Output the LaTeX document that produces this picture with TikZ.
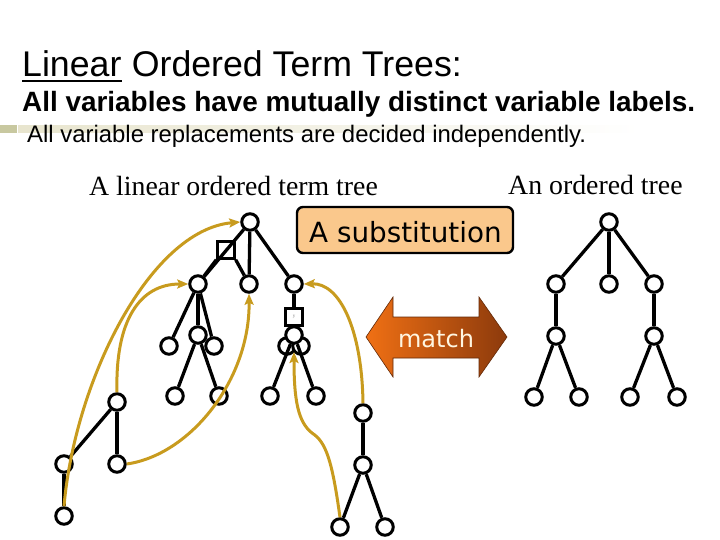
\documentclass[tikz,border=0pt]{standalone}
\usepackage{fontspec}
\setmainfont{Liberation Serif}
\newfontfamily\arialf{Liberation Sans}
\newfontfamily\tahf{DejaVu Sans}
\usetikzlibrary{arrows.meta}
\definecolor{gold}{RGB}{200,155,30}
\definecolor{bandc}{RGB}{232,229,206}
\definecolor{bulc}{RGB}{200,200,160}
\definecolor{subfill}{RGB}{250,200,140}
\definecolor{mleft}{RGB}{240,112,20}
\definecolor{mright}{RGB}{140,58,12}
\definecolor{mtext}{RGB}{255,246,225}
\begin{document}
\begin{tikzpicture}[x=1pt,y=-1pt,
  tn/.style={circle,draw,line width=3pt,minimum size=16.5pt,inner sep=0pt,fill=white},
  vb/.style={rectangle,draw,line width=2.4pt,minimum size=17pt,inner sep=0pt},
  ed/.style={line width=3.3pt},
  gl/.style={draw=gold,line width=3pt,-{Stealth[length=11pt,width=9pt,inset=2pt]}},
  hdr/.style={anchor=base west,inner sep=0pt}
]
\useasboundingbox (0,0) rectangle (720,540);

% header band and bullet
\shade[left color=bandc,right color=white] (18,126) rectangle (640,133);
\fill[bulc] (0,125) rectangle (17,133);

% header texts
\node[hdr] (lin) at (22,77) {\arialf\fontsize{35.7}{40}\selectfont Linear};
\node[hdr,anchor=base west] (t1) at ([xshift=10pt]lin.base east) {\arialf\fontsize{35.7}{40}\selectfont Ordered Term Trees:};
\draw[line width=2.6pt] ([yshift=-4pt]lin.base west) -- ([yshift=-4pt]lin.base east);
\node[hdr] (t2) at (22,112) {\arialf\bfseries\fontsize{27.9}{32}\selectfont All variables have mutually distinct variable labels.};
\node[hdr] (t3) at (27,143) {\arialf\fontsize{23.9}{28}\selectfont All variable replacements are decided independently.};

% tree captions
\node[hdr] (cap1) at (89,196) {\fontsize{27.8}{32}\selectfont A linear ordered term tree};
\node[hdr] (cap2) at (508,195) {\fontsize{27.8}{32}\selectfont An ordered tree};

% substitution box
\draw[fill=subfill,line width=2.4pt,rounded corners=6pt] (297,207) rectangle (513,253);
\node[hdr] (subst) at (309,243) {\tahf\fontsize{27.8}{32}\selectfont A substitution};

% match double arrow
\shade[left color=mleft,right color=mright,draw=mright!70!black,line width=0.6pt]
  (366,337) -- (393,297) -- (393,317) -- (479,317) -- (479,297) -- (507,337)
  -- (479,377) -- (479,358) -- (393,358) -- (393,377) -- cycle;
\node[anchor=base] (match) at (436,347) {\color{mtext}\tahf\fontsize{24}{28}\selectfont match};

% ---------- left tree ----------
\node[tn] (root) at (250,222) {};
\node[tn] (c1) at (198,284) {};
\node[tn] (c2) at (249,284) {};
\node[tn] (c3) at (294,284) {};
\node[vb] (xb) at (226,250) {\color{gray}\tiny x};
\node[vb] (yb) at (294,317) {\color{gray}\tiny y};
\node[tn] (a1) at (169,346) {};
\node[tn] (a2) at (214,346) {};
\node[tn] (m1) at (198,335) {};
\node[tn] (l1) at (175,396) {};
\node[tn] (l2) at (219,396) {};
\node[tn] (h1) at (287,346) {};
\node[tn] (h2) at (301,346) {};
\node[tn] (m2) at (294,335) {};
\node[tn] (l3) at (270,396) {};
\node[tn] (l4) at (316,396) {};

\draw[ed] (root) -- (c1);
\draw[ed] (root) -- (c2);
\draw[ed] (root) -- (c3);
\draw[ed] (xb.south west) -- (c1);
\draw[ed] (xb.south east) -- (c2);
\draw[ed] (c1) -- (a1);
\draw[ed] (c1) -- (a2);
\draw[ed] (c1) -- (m1);
\draw[ed] (m1) -- (l1);
\draw[ed] (m1) -- (l2);
\draw[ed] (c3) -- (yb);
\draw[ed] (yb) -- (m2);
\draw[ed] (m2) -- (l3);
\draw[ed] (m2) -- (l4);

% lower-left piece
\node[tn] (p) at (117,402) {};
\node[tn] (q1) at (64,464) {};
\node[tn] (q2) at (117,464) {};
\node[tn] (r) at (64,516) {};
\draw[ed] (p) -- (q1);
\draw[ed] (p) -- (q2);
\draw[ed] (q1) -- (r);

% lower-middle piece
\node[tn] (s) at (363,413) {};
\node[tn] (t) at (363,465) {};
\node[tn] (u1) at (340,527) {};
\node[tn] (u2) at (385,527) {};
\draw[ed] (s) -- (t);
\draw[ed] (t) -- (u1);
\draw[ed] (t) -- (u2);

% ---------- right tree ----------
\node[tn] (R) at (609,222) {};
\node[tn] (R1) at (556,284) {};
\node[tn] (R2) at (609,284) {};
\node[tn] (R3) at (654,284) {};
\node[tn] (R4) at (556,336) {};
\node[tn] (R5) at (654,336) {};
\node[tn] (L1) at (534,397) {};
\node[tn] (L2) at (579,397) {};
\node[tn] (L3) at (630,397) {};
\node[tn] (L4) at (677,397) {};
\draw[ed] (R) -- (R1);
\draw[ed] (R) -- (R2);
\draw[ed] (R) -- (R3);
\draw[ed] (R1) -- (R4);
\draw[ed] (R3) -- (R5);
\draw[ed] (R4) -- (L1);
\draw[ed] (R4) -- (L2);
\draw[ed] (R5) -- (L3);
\draw[ed] (R5) -- (L4);

% ---------- substitution curves ----------
\draw[gl] (r.north) .. controls (75,380) and (150,230) .. (root.west);
\draw[gl] (p.north) .. controls (115,320) and (140,284) .. (c1.west);
\draw[gl] (q2.east) .. controls (190,455) and (250,380) .. (c2.south);
\draw[gl] (s.north) .. controls (362,330) and (340,283) .. (c3.east);
\coordinate (k5) at (312,433);
\coordinate (e5) at (294,352);
\draw[gl] (u1.north) .. controls (332,460) and (326,442) .. (k5)
  .. controls (298,422) and (294,400) .. (e5);
\end{tikzpicture}
\end{document}
